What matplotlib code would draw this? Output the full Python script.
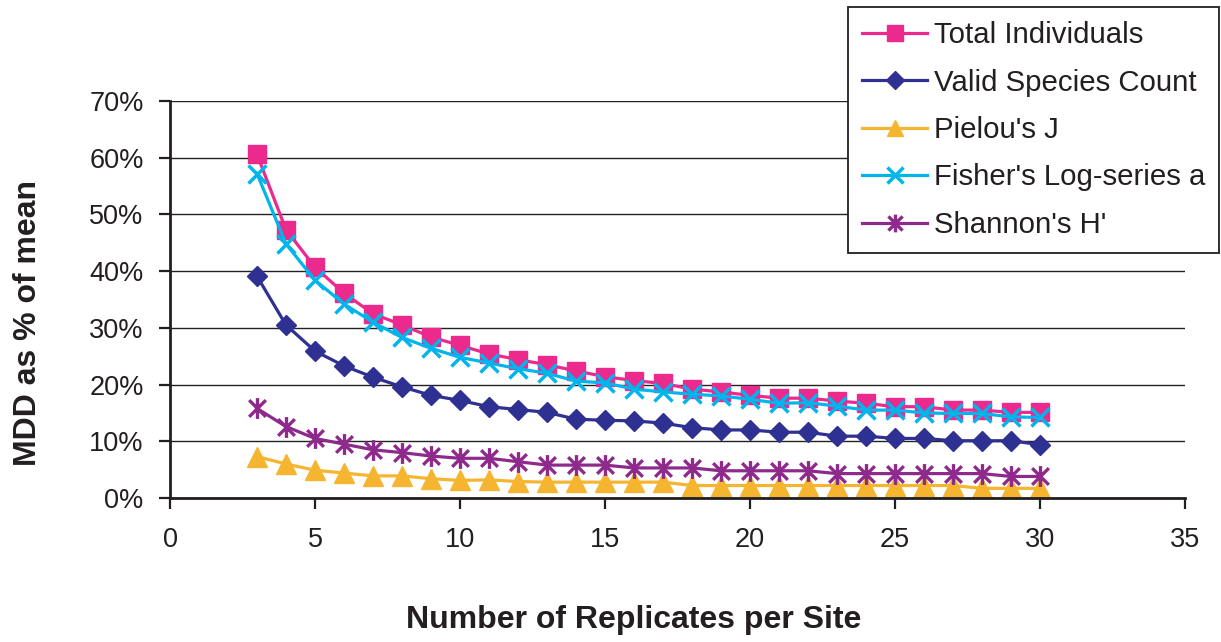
import matplotlib
matplotlib.use("Agg")
import matplotlib.pyplot as plt
from matplotlib.path import Path
from matplotlib.ticker import FuncFormatter, MultipleLocator

plt.rcParams['font.family'] = ['Liberation Sans', 'DejaVu Sans']

replicates = list(range(3, 31))
total_individuals = [60.6, 47.3, 40.7, 36.1, 32.5, 30.5, 28.4, 26.9, 25.4, 24.4,
                     23.5, 22.4, 21.4, 20.7, 20.2, 19.2, 18.7, 18.1, 17.6, 17.6,
                     17.1, 16.7, 16.1, 16.1, 15.5, 15.5, 15.1, 15.1]
valid_species = [39.1, 30.5, 25.9, 23.3, 21.3, 19.6, 18.1, 17.2, 16.1, 15.6,
                 15.1, 13.9, 13.7, 13.6, 13.2, 12.4, 12.0, 12.0, 11.6, 11.6,
                 10.9, 10.9, 10.5, 10.5, 10.1, 10.1, 10.1, 9.4]
pielou_j = [7.3, 6.0, 4.9, 4.4, 3.9, 3.9, 3.4, 3.1, 3.2, 2.9,
            2.8, 2.8, 2.8, 2.8, 2.8, 2.2, 2.2, 2.2, 2.2, 2.2,
            2.2, 2.2, 2.2, 2.2, 2.2, 1.7, 1.7, 1.7]
fisher_alpha = [57.2, 44.8, 38.4, 34.2, 31.0, 28.3, 26.4, 24.8, 23.8, 22.8,
                22.0, 20.6, 20.3, 19.2, 18.7, 18.3, 18.0, 17.4, 16.7, 16.8,
                16.2, 15.5, 15.5, 15.0, 14.9, 14.9, 14.3, 14.2]
shannon_h = [15.8, 12.6, 10.5, 9.5, 8.5, 8.0, 7.4, 7.0, 7.0, 6.4,
             5.8, 5.8, 5.8, 5.3, 5.3, 5.3, 4.8, 4.8, 4.8, 4.8,
             4.3, 4.3, 4.3, 4.3, 4.3, 4.3, 3.8, 3.8]

series_names = ["Total Individuals", "Valid Species Count", "Pielou's J",
                "Fisher's Log-series a", "Shannon's H'"]

# Excel-style asterisk: X plus vertical bar
star_path = Path([(0, -1), (0, 1), (-0.8, -0.8), (0.8, 0.8), (-0.8, 0.8), (0.8, -0.8)],
                 [Path.MOVETO, Path.LINETO, Path.MOVETO, Path.LINETO, Path.MOVETO, Path.LINETO])

styles = [
    dict(color='#EC2A8E', marker='s', ms=13.5, mec='#EC2A8E'),
    dict(color='#2E3192', marker='D', ms=10.5, mec='#2E3192'),
    dict(color='#F6B530', marker='^', ms=14, mec='#F6B530'),
    dict(color='#00B4EC', marker='x', ms=13, mew=2.5),
    dict(color='#8E2A8C', marker=star_path, ms=15, mew=2.4, mfc='none'),
]
data = [total_individuals, valid_species, pielou_j, fisher_alpha, shannon_h]

fig = plt.figure(figsize=(12.21, 6.42), dpi=100)
ax = fig.add_axes([170/1221, 1-498/642, (1185-170)/1221, (498-101)/642])

text_col = '#231F20'
handles = []
for name, vals, st in zip(series_names, data, styles):
    h, = ax.plot(replicates, vals, lw=2.3, label=name, clip_on=False, **st)
    handles.append(h)

ax.set_xlim(0, 35)
ax.set_ylim(0, 70)
ax.xaxis.set_major_locator(MultipleLocator(5))
ax.yaxis.set_major_locator(MultipleLocator(10))
ax.yaxis.set_major_formatter(FuncFormatter(lambda v, p: f"{v:.0f}%"))
ax.grid(axis='y', color='#222222', lw=1.0)
ax.set_axisbelow(True)
for s in ['top', 'right']:
    ax.spines[s].set_visible(False)
for s in ['left', 'bottom']:
    ax.spines[s].set_linewidth(2.0)
    ax.spines[s].set_color('#231F20')
ax.tick_params(axis='both', direction='out', length=8, width=1.6, color='#231F20',
               labelsize=19.5, labelcolor=text_col)
ax.tick_params(axis='x', pad=13)
ax.tick_params(axis='y', pad=11)

fig.text(28/1221, 1-323/642, "MDD as % of mean", rotation=90, ha='center', va='center',
         fontsize=23, fontweight='bold', color=text_col)
fig.text(634/1221, 1-620/642, "Number of Replicates per Site", ha='center', va='center',
         fontsize=23, fontweight='bold', color=text_col)

leg = fig.legend(handles=handles, loc='upper left', bbox_to_anchor=(848/1221, 1-7/642),
                 borderaxespad=0, fontsize=21.2, frameon=True, fancybox=False,
                 edgecolor='#231F20', framealpha=1, handlelength=2.2, handletextpad=0.24,
                 labelspacing=0.66, borderpad=0.48, markerscale=0.85)
leg.get_frame().set_linewidth(1.3)
for t in leg.get_texts():
    t.set_color(text_col)

fig.savefig("out.png", dpi=100)
